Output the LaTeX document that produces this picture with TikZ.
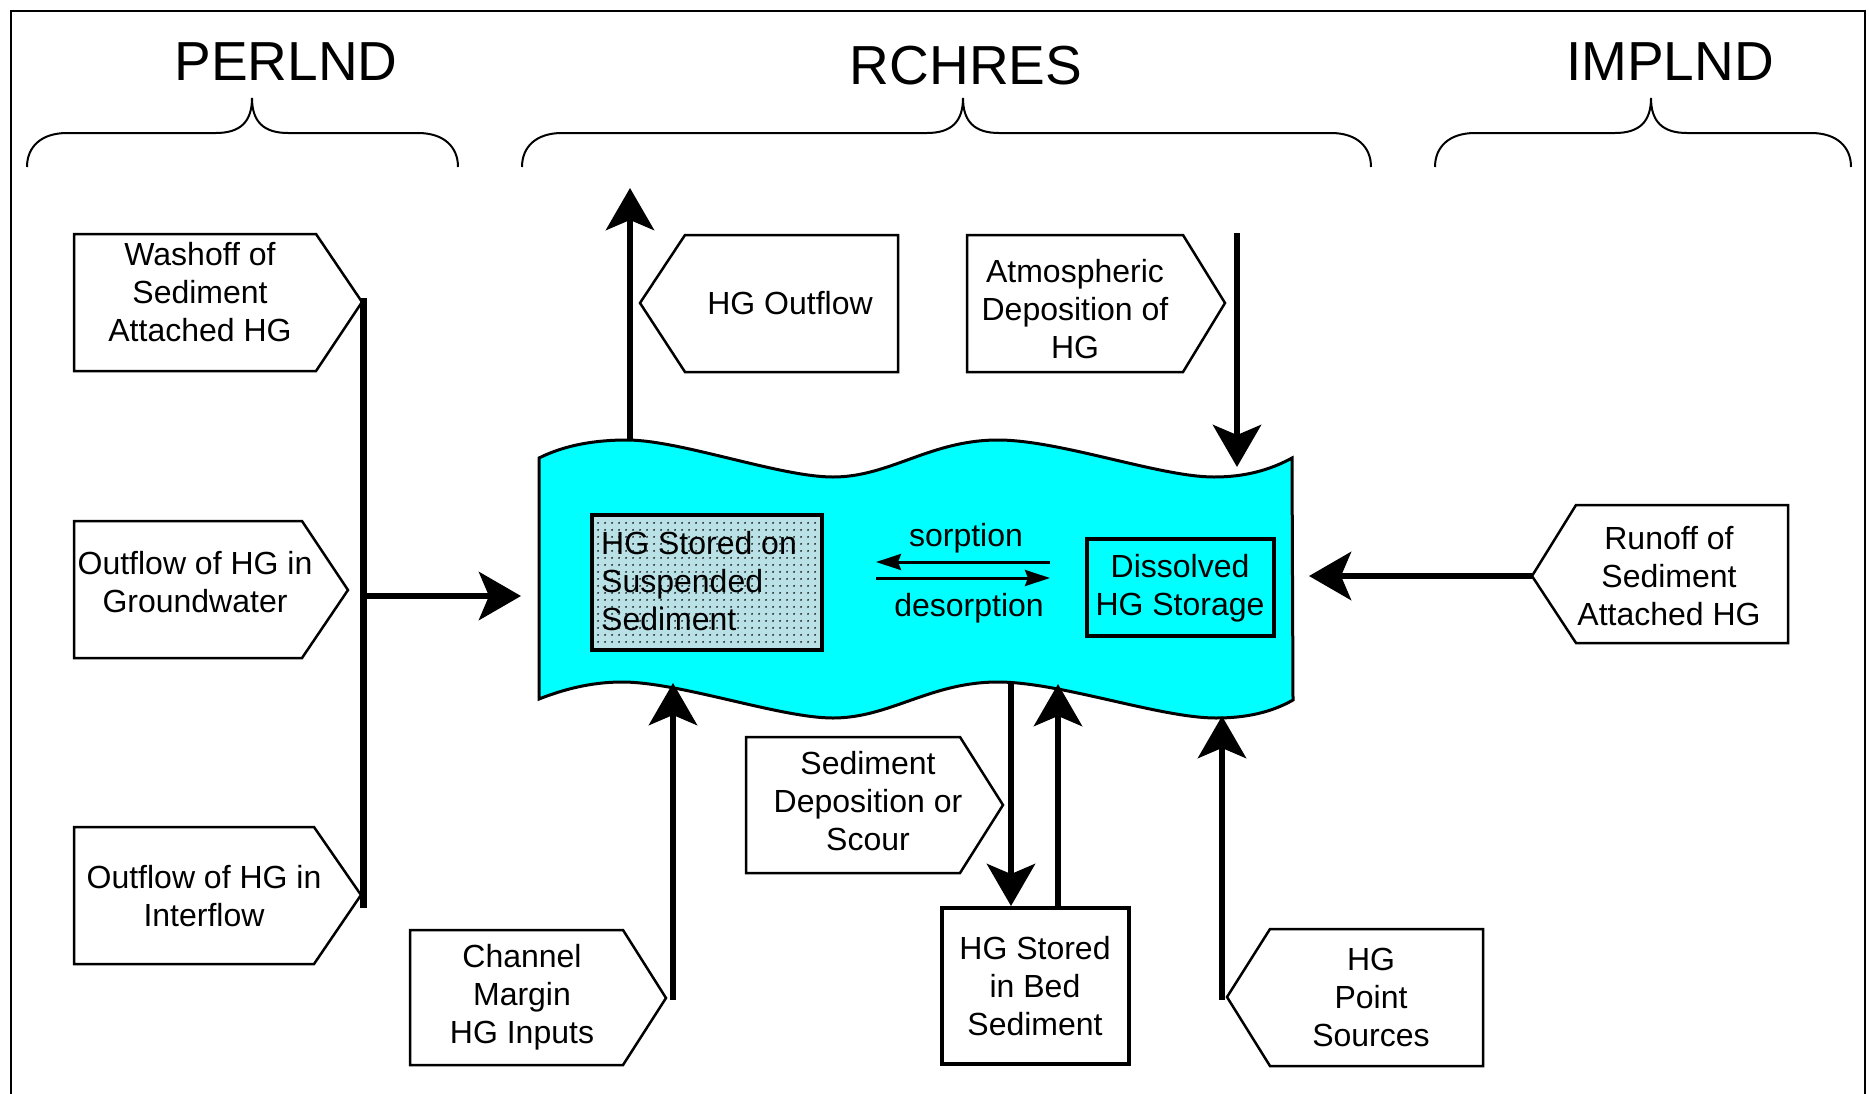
\documentclass[tikz,border=0pt]{standalone}
\usepackage{fontspec}
\setmainfont{Liberation Sans}
\usetikzlibrary{arrows.meta,patterns.meta}
\definecolor{water}{RGB}{0,255,255}
\definecolor{sedfill}{RGB}{185,225,230}
\tikzdeclarepattern{
  name=sdots,
  type=uncolored,
  bounding box={(0pt,0pt) and (7pt,7pt)},
  tile size={(7pt,7pt)},
  code={\fill (3.5pt,3.5pt) circle (1.1pt);}
}
\newcommand\mybrace[3]{%
  \draw[brc] (#1,167) .. controls (#1,147) and (#1+14,133) .. (#1+40,133)
    -- (#2-36,133) .. controls (#2-12,133) and (#2,122) .. (#2,98)
    .. controls (#2,122) and (#2+12,133) .. (#2+36,133)
    -- (#3-40,133) .. controls (#3-14,133) and (#3,147) .. (#3,167);}
\begin{document}
\begin{tikzpicture}[x=1pt,y=-1pt,
  lbl/.style={font=\fontsize{32}{38}\selectfont, align=center, inner sep=0pt},
  ttl/.style={font=\fontsize{55}{60}\selectfont, inner sep=0pt, anchor=base},
  pent/.style={draw=black, line width=2.5pt, fill=white, line join=miter},
  stor/.style={draw=black, line width=4pt},
  flow/.style={line width=6.5pt, -{Stealth[length=42pt,width=48pt,inset=10pt]}},
  brc/.style={line width=2pt},
  sorp/.style={line width=3pt, -{Stealth[length=25pt,width=16pt,inset=3pt]}}]
\useasboundingbox (0,0) rectangle (1869,1093);
% frame
\draw[line width=2.5pt] (11,1100) -- (11,11) -- (1865,11) -- (1865,1100);
% titles and braces
\node[ttl] (perl) at (286,80) {PERLND};
\node[ttl] (rch) at (966,84) {RCHRES};
\node[ttl] (impl) at (1670,80) {IMPLND};
\mybrace{27}{252}{458}
\mybrace{522}{963}{1371}
\mybrace{1435}{1651}{1851}
% water body
\draw[line width=3pt, fill=water]
  (539,458) .. controls (565,445) and (595,440) .. (627,440)
  .. controls (680,440) and (780,477) .. (833,477)
  .. controls (890,477) and (930,440) .. (998,440)
  .. controls (1060,440) and (1160,477) .. (1214,477)
  .. controls (1245,477) and (1270,470) .. (1292,458)
  -- (1293,700)
  .. controls (1272,712) and (1247,718) .. (1216,718)
  .. controls (1160,718) and (1060,682) .. (998,682)
  .. controls (930,682) and (890,718) .. (833,718)
  .. controls (780,718) and (680,682) .. (622,682)
  .. controls (590,682) and (562,690) .. (539,699) -- cycle;
\coordinate (wtop) at (630,441);
\coordinate (watm) at (1237,467);
\coordinate (wright) at (1309,576);
\coordinate (wleft) at (521,596);
\coordinate (wchan) at (673,683);
\coordinate (wdep) at (1011,682);
\coordinate (wscour) at (1058,684);
\coordinate (wpt) at (1222,716);
% suspended sediment store
\fill[sedfill] (592,515) rectangle (822,650);
\fill[pattern=sdots, pattern color=black] (592,515) rectangle (822,650);
\draw[stor] (592,515) rectangle (822,650);
\node[lbl, align=left, anchor=west] (susp) at (601,581) {HG Stored on\\Suspended\\Sediment};
% dissolved store
\node[stor, fill=water, minimum width=187pt, minimum height=97pt, inner sep=0pt] (diss) at (1180.5,587.5) {};
\node[lbl] (disst) at (1180,588) {Dissolved\\HG Storage};
% sorption arrows
\coordinate (sa) at (1050,562);
\coordinate (sb) at (876,562);
\coordinate (sc) at (876,578);
\coordinate (sd) at (1050,578);
\draw[sorp] (sa) -- (sb);
\draw[sorp] (sc) -- (sd);
\node[lbl] (sorpt) at (966,538) {sorption};
\node[lbl] (desorpt) at (969,608) {desorption};
% PERLND inputs
\draw[pent] (74,234) -- (316,234) -- (362,302) -- (316,371) -- (74,371) -- cycle;
\node[lbl] (wash) at (200,292) {Washoff of\\Sediment\\Attached HG};
\draw[pent] (74,521) -- (302,521) -- (348,590) -- (302,658) -- (74,658) -- cycle;
\node[lbl] (gw) at (195,582) {Outflow of HG in\\Groundwater};
\draw[pent] (74,827) -- (314,827) -- (361,895) -- (314,964) -- (74,964) -- cycle;
\node[lbl] (intf) at (204,896) {Outflow of HG in\\Interflow};
\coordinate (bartop) at (363,298);
\coordinate (barbot) at (363,908);
\coordinate (barmid) at (363,596);
\draw[line width=7pt] (bartop) -- (barbot);
\draw[flow] (barmid) -- (wleft);
% outflow
\draw[pent] (640,303) -- (685,235) -- (898,235) -- (898,372) -- (685,372) -- cycle;
\node[lbl] (outt) at (790,303) {HG Outflow};
\coordinate (outend) at (630,188);
\draw[flow] (wtop) -- (outend);
% atmospheric deposition
\draw[pent] (967,235) -- (1183,235) -- (1225,303) -- (1183,372) -- (967,372) -- cycle;
\node[lbl] (atm) at (1075,309) {Atmospheric\\Deposition of\\HG};
\coordinate (atmstart) at (1237,233);
\draw[flow] (atmstart) -- (watm);
% IMPLND runoff
\draw[pent] (1532,576) -- (1576,505) -- (1788,505) -- (1788,643) -- (1576,643) -- cycle;
\node[lbl] (runoff) at (1669,576) {Runoff of\\Sediment\\Attached HG};
\coordinate (runtip) at (1532,576);
\draw[flow] (runtip) -- (wright);
% channel margin
\draw[pent] (410,930) -- (623,930) -- (666,998) -- (623,1065) -- (410,1065) -- cycle;
\node[lbl] (chan) at (522,997) {Channel\\Margin\\HG Inputs};
\coordinate (chantip) at (673,1000);
\draw[flow] (chantip) -- (wchan);
% sediment deposition or scour
\draw[pent] (746,737) -- (960,737) -- (1003,805) -- (960,873) -- (746,873) -- cycle;
\node[lbl] (sedd) at (868,801) {Sediment\\Deposition or\\Scour};
% bed sediment
\node[stor, minimum width=187pt, minimum height=156pt, inner sep=0pt] (bed) at (1035.5,986) {};
\node[lbl] (bedt) at (1035,986) {HG Stored\\in Bed\\Sediment};
\coordinate (bedin) at (1011,906);
\coordinate (bedout) at (1058,906);
\draw[flow] (wdep) -- (bedin);
\draw[flow] (bedout) -- (wscour);
% point sources
\draw[pent] (1227,997) -- (1270,929) -- (1483,929) -- (1483,1066) -- (1270,1066) -- cycle;
\node[lbl] (pts) at (1371,997) {HG\\Point\\Sources};
\coordinate (pttip) at (1222,1000);
\draw[flow] (pttip) -- (wpt);
\end{tikzpicture}
\end{document}
